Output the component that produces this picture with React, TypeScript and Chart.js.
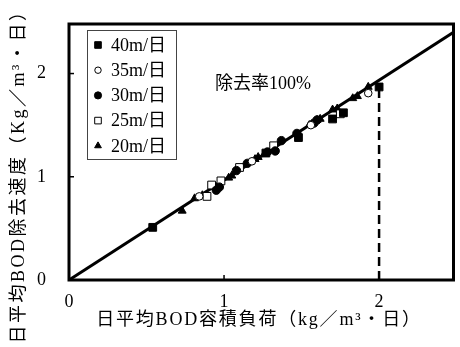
import React, { useEffect, useRef } from 'react';
import { Chart, registerables } from 'chart.js';
import { drawPoint } from 'chart.js/helpers';

Chart.register(...registerables);

// ---- data ----
const seriesLabels = ['40m/日', '35m/日', '30m/日', '25m/日', '20m/日'];

const s40x = [0.54, 1.27, 1.48, 1.70, 1.77, 2.00];
const s40y = [0.51, 1.23, 1.38, 1.56, 1.62, 1.87];

const s35x = [0.84, 1.18, 1.56, 1.93];
const s35y = [0.81, 1.15, 1.50, 1.81];

const s30x = [0.95, 0.97, 1.08, 1.15, 1.28, 1.33, 1.37, 1.47, 1.58, 1.60];
const s30y = [0.87, 0.90, 1.06, 1.13, 1.24, 1.25, 1.35, 1.42, 1.52, 1.55];

const s25x = [0.89, 0.92, 0.98, 1.10, 1.32, 1.75];
const s25y = [0.81, 0.92, 0.96, 1.09, 1.30, 1.61];

const s20x = [0.73, 0.81, 0.86, 0.95, 1.03, 1.05, 1.20, 1.22, 1.26, 1.55, 1.60, 1.62, 1.70, 1.73, 1.83, 1.86, 1.93];
const s20y = [0.67, 0.79, 0.82, 0.90, 0.99, 1.01, 1.17, 1.19, 1.22, 1.50, 1.55, 1.56, 1.65, 1.66, 1.76, 1.78, 1.87];

const refLineX = [0, 2.48];
const refLineY = [0, 2.40];
const dashX = [2.0, 2.0];
const dashY = [0, 1.87];

const xTicks = [0, 1, 2];
const yTicks = [0, 1, 2];
const axisMin = 0;
const axisMax = 2.48;

const xTitle = '日平均BOD容積負荷（kg／m³・日）';
const yTitle = '日平均BOD除去速度（Kg／m³・日）';
const noteText = '除去率100%';

const FONT = '"Liberation Serif", "Noto Sans CJK JP", serif';

const pts = (xs: number[], ys: number[]) => xs.map((x, i) => ({ x, y: ys[i] }));

const markerStyles = [
  { pointStyle: 'rect', radius: 5.5, fill: '#000' },
  { pointStyle: 'circle', radius: 3.8, fill: '#fff' },
  { pointStyle: 'circle', radius: 4.2, fill: '#000' },
  { pointStyle: 'rect', radius: 5.5, fill: '#fff' },
  { pointStyle: 'triangle', radius: 4.6, fill: '#000' },
];

const seriesData = [pts(s40x, s40y), pts(s35x, s35y), pts(s30x, s30y), pts(s25x, s25y), pts(s20x, s20y)];

const decorPlugin = {
  id: 'decor',
  afterDraw(chart: any) {
    const { ctx, chartArea: a, scales } = chart;
    const xs = scales.x;
    const ys = scales.y;
    ctx.save();
    // frame
    ctx.strokeStyle = '#000';
    ctx.lineWidth = 3;
    ctx.strokeRect(a.left, a.top, a.right - a.left, a.bottom - a.top);
    // inner ticks
    ctx.lineWidth = 1.5;
    xTicks.forEach((v) => {
      if (v === axisMin) return;
      const px = xs.getPixelForValue(v);
      ctx.beginPath();
      ctx.moveTo(px, a.bottom);
      ctx.lineTo(px, a.bottom - 5);
      ctx.stroke();
    });
    yTicks.forEach((v) => {
      if (v === axisMin) return;
      const py = ys.getPixelForValue(v);
      ctx.beginPath();
      ctx.moveTo(a.left, py);
      ctx.lineTo(a.left + 5, py);
      ctx.stroke();
    });

    // legend
    const lx = 87, ly = 30, lw = 89, lh = 129;
    ctx.lineWidth = 1;
    ctx.strokeStyle = '#444';
    ctx.fillStyle = '#fff';
    ctx.fillRect(lx, ly, lw, lh);
    ctx.strokeRect(lx + 0.5, ly + 0.5, lw, lh);
    ctx.font = '18px ' + FONT;
    ctx.textBaseline = 'middle';
    ctx.textAlign = 'left';
    seriesLabels.forEach((label, i) => {
      const ry = 45 + i * 25.2;
      const m = markerStyles[i];
      ctx.fillStyle = m.fill;
      ctx.strokeStyle = '#000';
      ctx.lineWidth = 1;
      drawPoint(ctx, { pointStyle: m.pointStyle, radius: m.radius * 0.85, rotation: 0, borderWidth: 1 } as any, 98, ry);
      ctx.fillStyle = '#000';
      ctx.fillText(label, 111, ry + 1);
    });

    // note
    ctx.fillStyle = '#000';
    ctx.font = '18px ' + FONT;
    ctx.textAlign = 'left';
    ctx.textBaseline = 'middle';
    ctx.fillText(noteText, 215, 84);

    // axis titles
    ctx.textAlign = 'center';
    (ctx as any).letterSpacing = '1.8px';
    ctx.fillText(xTitle, 259, 320);
    ctx.translate(19, 172);
    ctx.rotate(-Math.PI / 2);
    (ctx as any).letterSpacing = '2.5px';
    ctx.fillText(yTitle, 0, 0);
    ctx.restore();
  },
};

export default function App() {
  const ref = useRef<HTMLCanvasElement | null>(null);
  useEffect(() => {
    document.body.style.margin = '0';
    const canvas = ref.current;
    if (!canvas) return;
    const datasets: any[] = seriesLabels.map((label, i) => ({
      label,
      data: seriesData[i],
      pointStyle: markerStyles[i].pointStyle,
      pointRadius: markerStyles[i].radius,
      pointBackgroundColor: markerStyles[i].fill,
      pointBorderColor: '#000',
      pointBorderWidth: 1,
      showLine: false,
    }));
    datasets.push({
      label: 'ref',
      data: pts(refLineX, refLineY),
      showLine: true,
      borderColor: '#000',
      borderWidth: 3,
      pointRadius: 0,
    });
    datasets.push({
      label: 'dash',
      data: pts(dashX, dashY),
      showLine: true,
      borderColor: '#000',
      borderWidth: 2.5,
      borderDash: [9, 5],
      pointRadius: 0,
    });
    const tickFont = { family: FONT, size: 18, lineHeight: 1 };
    const chart = new Chart(canvas, {
      type: 'scatter',
      data: { datasets },
      options: {
        responsive: false,
        animation: false,
        layout: { padding: { top: 22, right: 6, left: 0, bottom: 0 } },
        plugins: { legend: { display: false }, tooltip: { enabled: false } },
        scales: {
          x: {
            type: 'linear',
            min: axisMin,
            max: axisMax,
            afterBuildTicks: (s: any) => { s.ticks = xTicks.map((v) => ({ value: v })); },
            afterFit: (s: any) => { s.height = 67; },
            grid: { display: false },
            border: { display: false },
            ticks: { font: tickFont, color: '#000', padding: 5, maxRotation: 0 },
          },
          y: {
            type: 'linear',
            min: axisMin,
            max: axisMax,
            afterBuildTicks: (s: any) => { s.ticks = yTicks.map((v) => ({ value: v })); },
            afterFit: (s: any) => { s.width = 69; },
            grid: { display: false },
            border: { display: false },
            ticks: { font: tickFont, color: '#000', padding: 15 },
          },
        },
      } as any,
      plugins: [decorPlugin],
    });
    return () => chart.destroy();
  }, []);
  return (
    <div style={{ width: 460, height: 347 }}>
      <canvas ref={ref} width={460} height={347} />
    </div>
  );
}
